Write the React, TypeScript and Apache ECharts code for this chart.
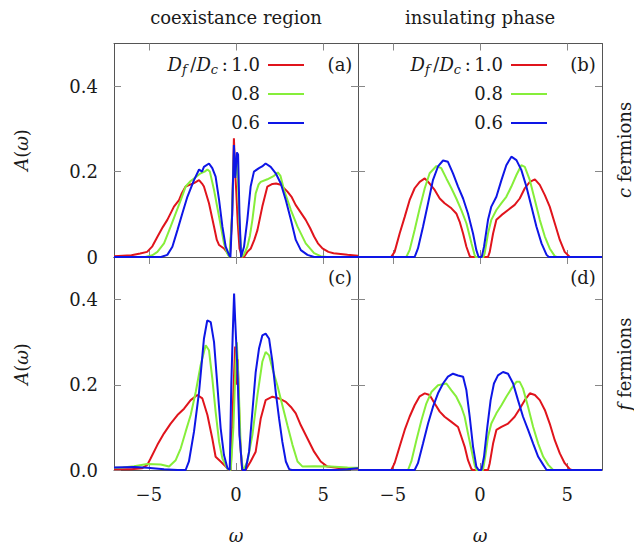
import React, { useEffect, useRef } from "react";
import * as echarts from "echarts";

const ratios = ["1.0", "0.8", "0.6"];
const colors = ["#e0141c", "#86ee3a", "#0e16e6"];
const xTicks = [-5, 0, 5];
const yTicks = [0, 0.2, 0.4];
const columnTitles = ["coexistance region", "insulating phase"];
const panelLabels = ["(a)", "(b)", "(c)", "(d)"];

const aRed = [[-7,0.002],[-6.5,0.003],[-6,0.004],[-5.5,0.008],[-5.1,0.012],[-4.8,0.025],[-4.5,0.048],[-4.2,0.07],[-3.94,0.087],[-3.56,0.118],[-3.27,0.133],[-3.1,0.15],[-2.89,0.165],[-2.6,0.17],[-2.41,0.173],[-2.12,0.18],[-1.95,0.172],[-1.84,0.165],[-1.55,0.126],[-1.26,0.071],[-1.1,0.04],[-0.97,0.028],[-0.69,0.02],[-0.5,0.01],[-0.35,0],[-0.22,0.1],[-0.12,0.278],[-0.05,0.2],[0.02,0.15],[0.1,0.08],[0.2,0.02],[0.35,0],[0.46,0],[0.65,0.012],[0.85,0.02],[1.05,0.04],[1.23,0.063],[1.51,0.118],[1.8,0.165],[2.09,0.171],[2.3,0.172],[2.57,0.169],[2.95,0.153],[3.2,0.14],[3.42,0.122],[3.7,0.105],[4.0,0.087],[4.25,0.068],[4.48,0.048],[4.7,0.032],[4.96,0.02],[5.3,0.012],[5.6,0.009],[6.0,0.007],[6.4,0.005],[7,0.003]];
const aGreen = [[-7,0],[-5.2,0],[-4.8,0.004],[-4.51,0.012],[-4.13,0.032],[-3.75,0.071],[-3.46,0.102],[-3.17,0.133],[-2.89,0.165],[-2.6,0.178],[-2.41,0.184],[-2.03,0.196],[-1.8,0.2],[-1.64,0.205],[-1.5,0.2],[-1.26,0.157],[-0.97,0.094],[-0.69,0.032],[-0.5,0.008],[-0.38,0],[-0.25,0.08],[-0.12,0.24],[-0.03,0.19],[0.08,0.22],[0.2,0.07],[0.33,0],[0.45,0.005],[0.65,0.024],[0.8,0.05],[0.94,0.087],[1.13,0.149],[1.3,0.17],[1.42,0.176],[1.8,0.182],[2.18,0.19],[2.4,0.198],[2.55,0.19],[2.76,0.157],[3.15,0.11],[3.53,0.071],[4.0,0.032],[4.48,0.009],[4.86,0.002],[5.2,0],[7,0]];
const aBlue = [[-7,0],[-4.3,0],[-3.94,0.005],[-3.65,0.024],[-3.36,0.063],[-3.08,0.102],[-2.79,0.141],[-2.41,0.18],[-2.12,0.205],[-1.95,0.2],[-1.84,0.211],[-1.55,0.219],[-1.36,0.208],[-1.17,0.188],[-0.97,0.133],[-0.78,0.071],[-0.59,0.024],[-0.4,0.005],[-0.32,0],[-0.22,0.1],[-0.12,0.262],[-0.04,0.185],[0.05,0.245],[0.12,0.24],[0.2,0.1],[0.29,0],[0.46,0.024],[0.65,0.087],[0.84,0.165],[1.03,0.2],[1.32,0.208],[1.5,0.212],[1.7,0.219],[1.99,0.211],[2.28,0.196],[2.57,0.172],[2.86,0.133],[3.15,0.087],[3.43,0.04],[3.72,0.016],[4.1,0.005],[4.48,0],[7,0]];

const bRed = [[-7,0],[-5.1,0],[-4.9,0.012],[-4.61,0.055],[-4.32,0.094],[-4.04,0.133],[-3.75,0.161],[-3.46,0.176],[-3.17,0.184],[-2.89,0.172],[-2.6,0.157],[-2.31,0.137],[-2.03,0.126],[-1.64,0.114],[-1.36,0.102],[-1.17,0.083],[-0.97,0.055],[-0.78,0.024],[-0.59,0.002],[-0.5,0],[0.46,0],[0.56,0.012],[0.75,0.055],[0.94,0.087],[1.23,0.098],[1.61,0.11],[1.99,0.122],[2.28,0.137],[2.57,0.161],[2.86,0.176],[3.15,0.182],[3.43,0.169],[3.72,0.145],[4.0,0.118],[4.29,0.079],[4.58,0.04],[4.86,0.012],[5.15,0],[7,0]];
const bGreen = [[-7,0],[-4.23,0],[-4.04,0.016],[-3.75,0.063],[-3.46,0.114],[-3.17,0.161],[-2.89,0.196],[-2.5,0.213],[-2.22,0.208],[-1.93,0.184],[-1.64,0.161],[-1.36,0.137],[-1.07,0.11],[-0.78,0.079],[-0.49,0.032],[-0.31,0.005],[-0.25,0],[0.2,0],[0.27,0.009],[0.46,0.055],[0.65,0.087],[0.94,0.11],[1.23,0.126],[1.51,0.141],[1.8,0.165],[2.09,0.192],[2.37,0.215],[2.57,0.211],[2.86,0.18],[3.15,0.133],[3.43,0.087],[3.72,0.048],[4.0,0.02],[4.29,0.002],[4.4,0],[7,0]];
const bBlue = [[-7,0],[-3.75,0],[-3.56,0.02],[-3.27,0.071],[-2.98,0.126],[-2.7,0.18],[-2.41,0.212],[-2.12,0.226],[-1.84,0.223],[-1.55,0.196],[-1.26,0.165],[-0.97,0.137],[-0.69,0.102],[-0.4,0.055],[-0.21,0.016],[-0.08,0],[0.1,0],[0.23,0.024],[0.46,0.087],[0.65,0.118],[0.94,0.141],[1.23,0.18],[1.51,0.215],[1.8,0.235],[2.09,0.227],[2.37,0.204],[2.66,0.165],[2.95,0.118],[3.24,0.071],[3.53,0.032],[3.82,0.005],[3.95,0],[7,0]];

const cRed = [[-7,0.002],[-6,0.002],[-5.4,0.004],[-5.09,0.012],[-4.9,0.027],[-4.51,0.059],[-4.13,0.086],[-3.75,0.109],[-3.36,0.129],[-2.98,0.144],[-2.6,0.164],[-2.22,0.176],[-1.93,0.168],[-1.64,0.129],[-1.36,0.074],[-1.17,0.031],[-0.88,0.02],[-0.59,0.008],[-0.4,0],[-0.3,0],[-0.18,0.15],[-0.05,0.29],[0.03,0.2],[0.1,0.26],[0.22,0.08],[0.35,0],[0.55,0],[0.84,0.02],[1.13,0.043],[1.42,0.121],[1.7,0.164],[2.09,0.172],[2.47,0.168],[2.86,0.16],[3.15,0.148],[3.43,0.133],[3.72,0.105],[4.1,0.074],[4.48,0.043],[4.86,0.02],[5.24,0.008],[6.0,0.004],[7,0.003]];
const cGreen = [[-7,0.005],[-6.5,0.006],[-5.85,0.009],[-5.09,0.014],[-4.32,0.013],[-3.84,0.008],[-3.46,0.023],[-3.17,0.051],[-2.89,0.09],[-2.6,0.129],[-2.31,0.183],[-2.03,0.246],[-1.74,0.293],[-1.55,0.281],[-1.36,0.215],[-1.17,0.137],[-0.97,0.066],[-0.78,0.027],[-0.49,0.002],[-0.3,0],[-0.15,0.1],[-0.02,0.25],[0.05,0.3],[0.15,0.2],[0.28,0.04],[0.4,0],[0.46,0.002],[0.65,0.02],[0.94,0.082],[1.23,0.176],[1.51,0.254],[1.7,0.277],[1.9,0.269],[2.09,0.238],[2.37,0.199],[2.66,0.152],[2.95,0.105],[3.24,0.059],[3.53,0.02],[3.82,0.008],[4.48,0.009],[5.43,0.008],[6.4,0.006],[7,0.005]];
const cBlue = [[-7,0.006],[-5.85,0.007],[-5.09,0.005],[-4.13,0.002],[-3.36,0],[-2.89,0],[-2.7,0.02],[-2.41,0.09],[-2.12,0.183],[-1.84,0.308],[-1.65,0.351],[-1.45,0.347],[-1.26,0.3],[-1.07,0.199],[-0.88,0.098],[-0.69,0.035],[-0.49,0.004],[-0.36,0],[-0.27,0.2],[-0.19,0.316],[-0.11,0.414],[-0.05,0.355],[0.08,0.238],[0.2,0.082],[0.36,0],[0.55,0],[0.75,0.043],[0.94,0.137],[1.13,0.23],[1.32,0.285],[1.51,0.316],[1.7,0.32],[1.9,0.308],[2.09,0.254],[2.28,0.183],[2.47,0.121],[2.66,0.066],[2.86,0.02],[3.05,0.002],[3.2,0],[5.7,0],[6.4,0.002],[7,0.004]];

const dRed = [[-7,0],[-5.09,0],[-4.9,0.016],[-4.61,0.055],[-4.32,0.094],[-4.04,0.125],[-3.75,0.152],[-3.46,0.173],[-3.17,0.18],[-2.89,0.176],[-2.6,0.156],[-2.31,0.137],[-2.03,0.125],[-1.64,0.113],[-1.26,0.101],[-1.07,0.078],[-0.88,0.055],[-0.69,0.023],[-0.49,0.002],[-0.4,0],[0.46,0],[0.56,0.016],[0.75,0.062],[0.94,0.094],[1.23,0.101],[1.61,0.109],[1.99,0.125],[2.28,0.144],[2.57,0.164],[2.86,0.18],[3.15,0.176],[3.43,0.164],[3.72,0.141],[4.0,0.109],[4.29,0.07],[4.58,0.039],[4.86,0.016],[5.15,0.002],[5.25,0],[7,0]];
const dGreen = [[-7,0],[-4.13,0],[-3.94,0.02],[-3.65,0.07],[-3.36,0.117],[-3.08,0.156],[-2.79,0.183],[-2.41,0.199],[-1.93,0.203],[-1.64,0.187],[-1.36,0.172],[-1.07,0.148],[-0.88,0.125],[-0.69,0.086],[-0.49,0.047],[-0.31,0.012],[-0.21,0],[0.17,0],[0.3,0.031],[0.46,0.078],[0.65,0.109],[0.94,0.133],[1.23,0.152],[1.51,0.172],[1.8,0.191],[2.09,0.207],[2.28,0.207],[2.47,0.191],[2.76,0.148],[3.05,0.101],[3.34,0.062],[3.63,0.031],[3.92,0.012],[4.2,0],[7,0]];
const dBlue = [[-7,0],[-3.75,0],[-3.56,0.016],[-3.27,0.062],[-2.98,0.109],[-2.7,0.148],[-2.41,0.18],[-2.12,0.203],[-1.84,0.219],[-1.55,0.226],[-1.26,0.222],[-0.97,0.219],[-0.78,0.187],[-0.59,0.125],[-0.4,0.055],[-0.21,0.008],[-0.08,0],[0.08,0],[0.23,0.031],[0.42,0.101],[0.61,0.164],[0.8,0.203],[1.03,0.222],[1.32,0.23],[1.61,0.226],[1.9,0.203],[2.18,0.164],[2.47,0.125],[2.76,0.094],[3.05,0.062],[3.34,0.031],[3.63,0.012],[3.82,0],[7,0]];

const panels = [
  [aRed, aGreen, aBlue],
  [bRed, bGreen, bBlue],
  [cRed, cGreen, cBlue],
  [dRed, dGreen, dBlue],
];

const FONT = "DejaVu Serif";
const FS = 18;
const TXT = "#1a1a1a";
const FRAME = "#555";
const TICK = "#888";

const gridPos = [
  { left: 114, top: 43.5, width: 244, height: 213.5 },
  { left: 358, top: 43.5, width: 244, height: 213.5 },
  { left: 114, top: 257, width: 244, height: 213 },
  { left: 358, top: 257, width: 244, height: 213 },
];

function fmtX(v: number) {
  return v < 0 ? "\u2212" + Math.abs(v) : String(v);
}

export default function App() {
  const ref = useRef<HTMLDivElement>(null);
  useEffect(() => {
    if (!ref.current) return;
    const chart = echarts.init(ref.current, undefined, { renderer: "svg" });

    const grids: any[] = [];
    const xAxes: any[] = [];
    const yAxes: any[] = [];
    const series: any[] = [];

    gridPos.forEach((g, p) => {
      grids.push({ ...g, containLabel: false, outerBoundsMode: "none" });
      const isBottom = p >= 2;
      const isLeft = p % 2 === 0;
      ["bottom", "top"].forEach((pos, k) => {
        xAxes.push({
          type: "value",
          gridIndex: p,
          position: pos,
          min: -7,
          max: 7,
          axisLine: { show: true, onZero: false, lineStyle: { color: FRAME, width: 1 } },
          axisTick: { show: true, inside: true, length: 7, customValues: xTicks, lineStyle: { color: TICK, width: 1 } },
          axisLabel: {
            show: k === 0 && isBottom,
            customValues: xTicks,
            formatter: fmtX,
            margin: 15,
            color: TXT,
            fontFamily: FONT,
            fontSize: FS,
          },
          splitLine: { show: false },
        });
      });
      ["left", "right"].forEach((pos, k) => {
        yAxes.push({
          type: "value",
          gridIndex: p,
          position: pos,
          min: 0,
          max: 0.5,
          axisLine: { show: true, onZero: false, lineStyle: { color: FRAME, width: 1 } },
          axisTick: { show: true, inside: true, length: 7, customValues: yTicks, lineStyle: { color: TICK, width: 1 } },
          axisLabel: {
            show: k === 0 && isLeft,
            customValues: yTicks,
            formatter: (v: number) => (v === 0 && !isBottom ? "0" : v.toFixed(1)),
            margin: 16,
            color: TXT,
            fontFamily: FONT,
            fontSize: FS,
          },
          splitLine: { show: false },
        });
      });
      panels[p].forEach((data, s) => {
        series.push({
          type: "line",
          xAxisIndex: p * 2,
          yAxisIndex: p * 2,
          data,
          showSymbol: false,
          symbol: "none",
          lineStyle: { color: colors[s], width: 2 },
          itemStyle: { color: colors[s] },
          z: 2 + s,
          silent: true,
        });
      });
    });

    const baseStyle = { fontFamily: FONT, fontSize: FS, fill: TXT };
    const rich = {
      i: { fontFamily: FONT, fontSize: FS, fontStyle: "italic", fill: TXT },
      n: { fontFamily: FONT, fontSize: FS, fill: TXT },
      sub: { fontFamily: FONT, fontSize: 13, fontStyle: "italic", fill: TXT, padding: [10, 0, 0, 0] },
    };

    const graphic: any[] = [];
    const titleX = [236, 480];
    columnTitles.forEach((t, i) => {
      graphic.push({ type: "text", x: titleX[i], y: 17, style: { ...baseStyle, text: t, align: "center", verticalAlign: "middle" } });
      graphic.push({ type: "text", x: titleX[i], y: 535, style: { ...baseStyle, text: "{i|\u03c9}", rich, align: "center", verticalAlign: "middle" } });
    });
    [150, 364].forEach((cy) => {
      graphic.push({ type: "text", x: 21, y: cy, rotation: Math.PI / 2, style: { ...baseStyle, text: "{i|A}{n|(}{i|\u03c9}{n|)}", rich, align: "center", verticalAlign: "middle" } });
    });
    graphic.push({ type: "text", x: 624, y: 150, rotation: Math.PI / 2, style: { ...baseStyle, text: "{i|c}{n| fermions}", rich, align: "center", verticalAlign: "middle" } });
    graphic.push({ type: "text", x: 624, y: 364, rotation: Math.PI / 2, style: { ...baseStyle, text: "{i|f}{n| fermions}", rich, align: "center", verticalAlign: "middle" } });

    const labelPos = [[340, 64], [583, 64], [340, 277], [583, 277]];
    panelLabels.forEach((l, i) => {
      graphic.push({ type: "text", x: labelPos[i][0], y: labelPos[i][1], style: { ...baseStyle, text: l, align: "center", verticalAlign: "middle" } });
    });

    const legendRight = [260, 503];
    const legendY = [64, 93, 122];
    legendRight.forEach((rx) => {
      ratios.forEach((r, k) => {
        const text = k === 0 ? "{i|D}{sub|f}{n|\u2009/}{i|D}{sub|c}{n|\u2009:\u20091.0}" : "{n|" + r + "}";
        graphic.push({ type: "text", x: rx, y: legendY[k], style: { ...baseStyle, text, rich, align: "right", verticalAlign: "middle" } });
        graphic.push({ type: "line", shape: { x1: rx + 8, y1: legendY[k] + 1, x2: rx + 44, y2: legendY[k] + 1 }, style: { stroke: colors[k], lineWidth: 2 } });
      });
    });

    chart.setOption({
      animation: false,
      backgroundColor: "#ffffff",
      grid: grids,
      xAxis: xAxes,
      yAxis: yAxes,
      series,
      graphic,
    });
    return () => chart.dispose();
  }, []);

  return (
    <div
      ref={ref}
      style={{ position: "absolute", left: 0, top: 0, width: 634, height: 544, background: "#fff" }}
    />
  );
}
